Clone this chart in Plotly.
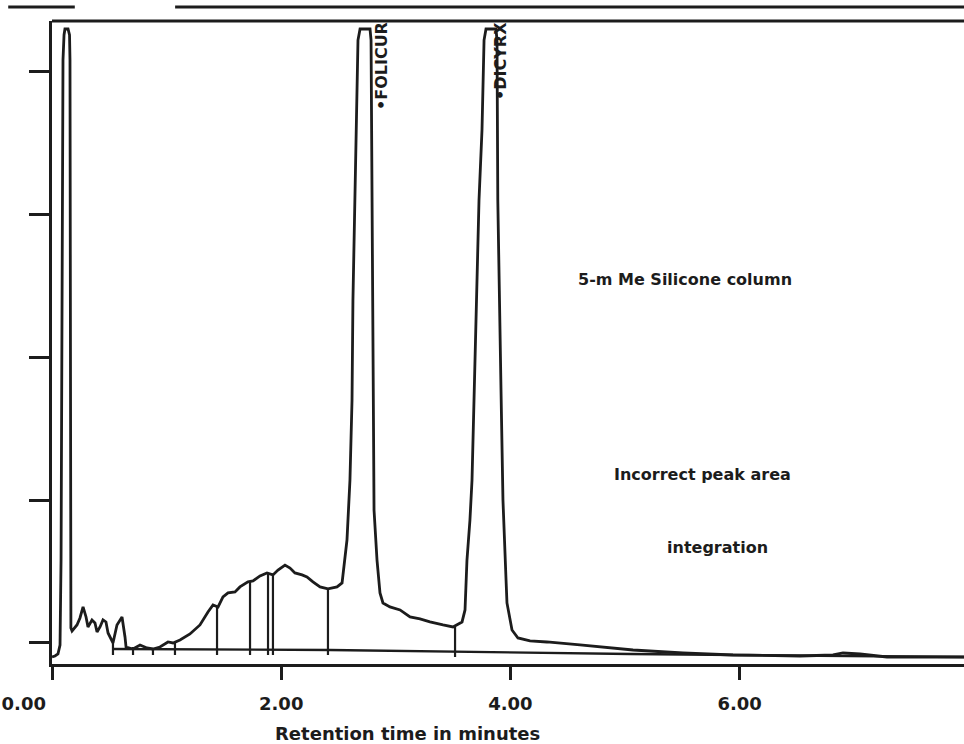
import plotly.graph_objects as go

# ---- data (retention time in minutes, detector signal in arbitrary units) ----
signal_time = [
    0.000, 0.026, 0.052, 0.070, 0.079, 0.087, 0.096, 0.105, 0.113, 0.140, 0.153, 0.157,
    0.160, 0.162, 0.165, 0.175, 0.218, 0.244, 0.271, 0.297, 0.314, 0.349, 0.375, 0.393,
    0.419, 0.445, 0.471, 0.489, 0.532, 0.567, 0.611, 0.637, 0.646, 0.707, 0.768, 0.829,
    0.881, 0.942, 1.012, 1.056, 1.117, 1.204, 1.291, 1.361, 1.405, 1.449, 1.492, 1.536,
    1.597, 1.640, 1.710, 1.754, 1.815, 1.876, 1.928, 1.972, 2.033, 2.077, 2.120, 2.182,
    2.225, 2.277, 2.339, 2.408, 2.487, 2.531, 2.557, 2.574, 2.600, 2.618, 2.626, 2.644,
    2.661, 2.670, 2.688, 2.775, 2.784, 2.792, 2.801, 2.810, 2.836, 2.862, 2.888, 2.949,
    3.037, 3.124, 3.211, 3.298, 3.412, 3.499, 3.578, 3.604, 3.621, 3.647, 3.665, 3.682,
    3.726, 3.752, 3.770, 3.787, 3.874, 3.883, 3.890, 3.918, 3.935, 3.962, 3.970, 4.014,
    4.066, 4.171, 4.319, 4.607, 4.895, 5.070, 5.506, 5.942, 6.527, 6.815, 6.902, 7.051,
    7.286, 7.958,
]
signal_value = [
    -0.098, -0.091, -0.077, -0.014, 0.580, 2.399, 4.077, 4.252, 4.294, 4.294, 4.252, 4.077,
    2.399, 0.580, 0.105, 0.084, 0.126, 0.175, 0.252, 0.182, 0.112, 0.161, 0.140, 0.077,
    0.112, 0.161, 0.147, 0.070, 0.000, 0.126, 0.182, 0.042, -0.028, -0.042, -0.014, -0.035,
    -0.042, -0.028, 0.007, 0.000, 0.021, 0.063, 0.126, 0.217, 0.266, 0.252, 0.322, 0.350,
    0.357, 0.392, 0.427, 0.434, 0.469, 0.490, 0.476, 0.510, 0.545, 0.524, 0.490, 0.476,
    0.462, 0.427, 0.392, 0.378, 0.392, 0.420, 0.580, 0.720, 1.140, 1.699, 2.399, 3.098,
    3.797, 4.217, 4.294, 4.294, 4.217, 3.098, 1.699, 0.930, 0.580, 0.350, 0.280, 0.252,
    0.231, 0.182, 0.168, 0.147, 0.126, 0.112, 0.147, 0.231, 0.580, 0.860, 1.140, 1.699,
    3.098, 3.587, 4.217, 4.294, 4.294, 4.217, 3.098, 1.769, 1.000, 0.441, 0.280, 0.091,
    0.035, 0.014, 0.007, -0.014, -0.035, -0.049, -0.070, -0.084, -0.091, -0.084, -0.070, -0.077,
    -0.098, -0.098,
]

baseline_time = [0.532, 2.426, 5.044, 7.958]
baseline_value = [-0.042, -0.049, -0.077, -0.098]

drop_time = [0.532, 0.707, 0.881, 1.073, 1.440, 1.728, 1.885, 1.928, 2.408, 3.517]
drop_top = [0.000, -0.028, -0.035, 0.000, 0.259, 0.427, 0.490, 0.476, 0.378, 0.112]
drop_bottom = [-0.084, -0.084, -0.084, -0.084, -0.084, -0.084, -0.084, -0.084, -0.084, -0.098]

peak_names = ["•FOLICUR", "•DICYRX"]
peak_label_time = [2.871, 3.909]

x_tick_values = [0, 2, 4, 6]
x_tick_labels = ["0.00", "2.00", "4.00", "6.00"]
y_tick_values = [0, 1, 2, 3, 4]

notes = ["5-m Me Silicone column", "Incorrect peak area", "integration"]
note_time = [5.524, 5.672, 5.803]
note_value = [2.545, 1.175, 0.671]

# ---- figure ----
INK = "#1c1c1c"
FONT = "DejaVu Sans"
NBSP = "\u00a0"

fig = go.Figure()

fig.add_trace(go.Scatter(x=signal_time, y=signal_value, mode="lines",
                         line=dict(color=INK, width=2.8), hoverinfo="skip"))
fig.add_trace(go.Scatter(x=baseline_time, y=baseline_value, mode="lines",
                         line=dict(color=INK, width=2.4), hoverinfo="skip"))

dx, dy = [], []
for t, top, bot in zip(drop_time, drop_top, drop_bottom):
    dx += [t, t, None]
    dy += [top, bot, None]
fig.add_trace(go.Scatter(x=dx, y=dy, mode="lines",
                         line=dict(color=INK, width=2.2), hoverinfo="skip"))

for name, t in zip(peak_names, peak_label_time):
    fig.add_annotation(x=t, y=1, yref="paper", xref="x", text=name, textangle=-90,
                       showarrow=False, xanchor="center", yanchor="top", yshift=1,
                       font=dict(family=FONT, size=16, color=INK, weight="bold"))

for txt, t, v in zip(notes, note_time, note_value):
    fig.add_annotation(x=t, y=v, text=txt, showarrow=False,
                       font=dict(family=FONT, size=16, color=INK, weight="bold"))

fig.add_annotation(x=0.390, y=0, xref="paper", yref="paper", yshift=-69,
                   text="Retention time in minutes", showarrow=False,
                   xanchor="center", yanchor="middle",
                   font=dict(family=FONT, size=18, color=INK, weight="bold"))

# top frame and the upper chart-paper rule
fig.add_shape(type="line", xref="paper", yref="paper", x0=0, x1=1, y0=1, y1=1,
              line=dict(color=INK, width=2.8))
fig.add_shape(type="line", xref="paper", yref="paper", x0=-0.048, x1=0.025,
              y0=1.0218, y1=1.0218, line=dict(color=INK, width=3))
fig.add_shape(type="line", xref="paper", yref="paper", x0=0.135, x1=1.0,
              y0=1.0218, y1=1.0218, line=dict(color=INK, width=3))

# the first tick label sits to the left of its tick in the reference
tick_text = [x_tick_labels[0] + NBSP * 9] + x_tick_labels[1:]

fig.update_layout(
    width=964, height=744,
    margin=dict(l=52, r=0, t=21, b=80),
    paper_bgcolor="white", plot_bgcolor="white",
    showlegend=False,
    font=dict(family=FONT, color=INK),
)
fig.update_xaxes(range=[0, 7.958], tickvals=x_tick_values, ticktext=tick_text,
                 showline=True, linecolor=INK, linewidth=3,
                 ticks="outside", ticklen=13, tickwidth=2.5, tickcolor=INK,
                 ticklabelstandoff=8,
                 showgrid=False, zeroline=False,
                 tickfont=dict(family=FONT, size=18, color=INK, weight="bold"))
fig.update_yaxes(range=[-0.147, 4.35], tickvals=y_tick_values, showticklabels=False,
                 showline=True, linecolor=INK, linewidth=3,
                 ticks="outside", ticklen=20, tickwidth=2.5, tickcolor=INK,
                 showgrid=False, zeroline=False)

fig.write_html(
    "out.html",
    config={"displayModeBar": False},
    post_script="document.body.style.margin='0';document.body.style.overflow='hidden';",
)
